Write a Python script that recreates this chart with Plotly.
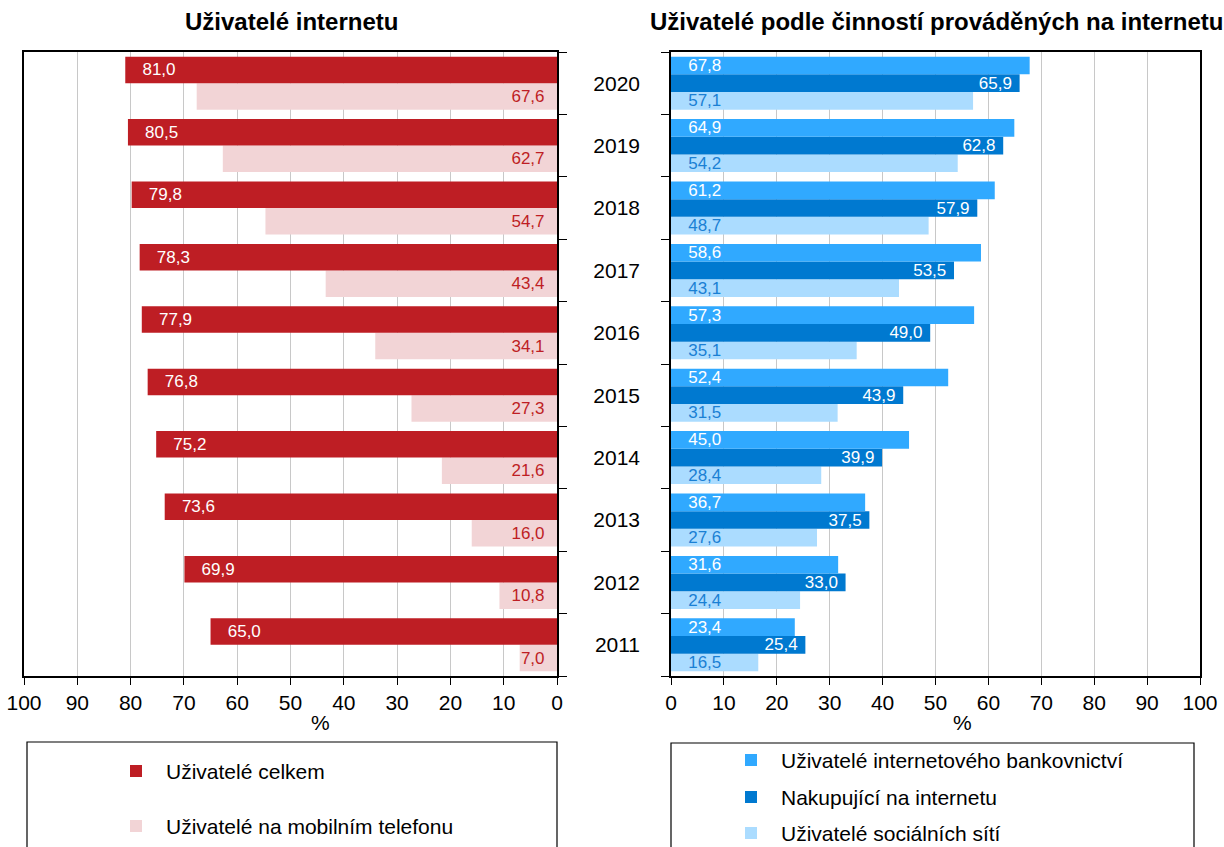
import plotly.graph_objects as go
from plotly.subplots import make_subplots

years = ['2011', '2012', '2013', '2014', '2015', '2016', '2017', '2018', '2019', '2020']

# levý graf - uživatelé internetu (%)
celkem = [65.0, 69.9, 73.6, 75.2, 76.8, 77.9, 78.3, 79.8, 80.5, 81.0]
mobil = [7.0, 10.8, 16.0, 21.6, 27.3, 34.1, 43.4, 54.7, 62.7, 67.6]

# pravý graf - činnosti na internetu (%)
bankovnictvi = [23.4, 31.6, 36.7, 45.0, 52.4, 57.3, 58.6, 61.2, 64.9, 67.8]
nakupujici = [25.4, 33.0, 37.5, 39.9, 43.9, 49.0, 53.5, 57.9, 62.8, 65.9]
socialni_site = [16.5, 24.4, 27.6, 28.4, 31.5, 35.1, 43.1, 48.7, 54.2, 57.1]

RED = '#BE1E24'
PINK = '#F2D4D6'
BLUE1 = '#30A9FF'
BLUE2 = '#0079D0'
BLUE3 = '#ABDCFF'
FONT = 'Liberation Sans, Arial, sans-serif'
W, H = 1224, 847
SP = '\u00a0'  # odsazení popisků od okraje sloupce


def px(x):
    return x / W


def py(y):
    return 1 - y / H


def open_box(x0, x1, ytop):
    # rámeček legendy oříznutý spodním okrajem obrázku
    return dict(type='path', xref='paper', yref='paper',
                path=f'M {px(x0)},0 L {px(x0)},{py(ytop)} L {px(x1)},{py(ytop)} L {px(x1)},0',
                line=dict(color='black', width=1.2))


fig = make_subplots(rows=1, cols=2)

# pořadí tras: první trasa je ve skupině dole
fig.add_trace(go.Bar(
    y=years, x=mobil, orientation='h', name='Uživatelé na mobilním telefonu',
    marker_color=PINK, texttemplate='%{x:.1f}' + SP * 2, textposition='inside',
    insidetextanchor='start', textfont=dict(color=RED, size=17)), row=1, col=1)
fig.add_trace(go.Bar(
    y=years, x=celkem, orientation='h', name='Uživatelé celkem',
    marker_color=RED, texttemplate=SP * 3 + '%{x:.1f}', textposition='inside',
    insidetextanchor='end', textfont=dict(color='white', size=17)), row=1, col=1)

fig.add_trace(go.Bar(
    y=years, x=socialni_site, orientation='h', name='Uživatelé sociálních sítí',
    marker_color=BLUE3, texttemplate=SP * 3 + '%{x:.1f}', textposition='inside',
    insidetextanchor='start', textfont=dict(color='#1A80D4', size=17)), row=1, col=2)
fig.add_trace(go.Bar(
    y=years, x=nakupujici, orientation='h', name='Nakupující na internetu',
    marker_color=BLUE2, texttemplate='%{x:.1f}' + SP, textposition='inside',
    insidetextanchor='end', textfont=dict(color='white', size=17)), row=1, col=2)
fig.add_trace(go.Bar(
    y=years, x=bankovnictvi, orientation='h', name='Uživatelé internetového bankovnictví',
    marker_color=BLUE1, texttemplate=SP * 3 + '%{x:.1f}', textposition='inside',
    insidetextanchor='start', textfont=dict(color='white', size=17)), row=1, col=2)

fig.update_traces(marker_line_width=0, constraintext='none', cliponaxis=False)

ydom = [py(676), py(52)]
xcommon = dict(dtick=10, tick0=0, showgrid=True, gridcolor='#C8C8C8', gridwidth=1,
               showline=True, linecolor='black', linewidth=2, mirror=True,
               ticks='outside', ticklen=7, tickcolor='black', zeroline=False,
               tickfont=dict(size=21, color='black'), automargin=False)
ycommon = dict(type='category', categoryorder='array', categoryarray=years,
               tickson='boundaries', ticks='outside', ticklen=8, tickcolor='black',
               showline=True, linecolor='black', linewidth=1.5, mirror=True,
               showgrid=False, automargin=False, domain=ydom)

fig.update_layout(
    xaxis=dict(xcommon, range=[100, 0], domain=[px(24), px(557)]),
    xaxis2=dict(xcommon, range=[0, 100], domain=[px(671), px(1200)]),
    yaxis=dict(ycommon, side='right', showticklabels=False),
    yaxis2=dict(ycommon, side='left', showticklabels=True,
                tickfont=dict(size=21, color='black'), ticklabelstandoff=25),
)

# legendy v rámečcích pod grafy (vlastní, aby nepřesahovaly okraj stránky)
legend_items = [
    ('Uživatelé celkem', RED, 136, 164, 771),
    ('Uživatelé na mobilním telefonu', PINK, 136, 164, 826),
    ('Uživatelé internetového bankovnictví', BLUE1, 751, 779, 760),
    ('Nakupující na internetu', BLUE2, 751, 779, 797),
    ('Uživatelé sociálních sítí', BLUE3, 751, 779, 833),
]
shapes = [open_box(27, 557, 742), open_box(671, 1194, 743)]
annotations = [
    dict(text='<b>Uživatelé internetu</b>', x=px(291), y=py(21),
         xanchor='center', yanchor='middle', font=dict(size=24)),
    dict(text='<b>Uživatelé podle činností prováděných na internetu</b>',
         x=px(937), y=py(21), xanchor='center', yanchor='middle', font=dict(size=24)),
    dict(text='%', x=px(320), y=py(722), xanchor='center', yanchor='middle',
         font=dict(size=21)),
    dict(text='%', x=px(962), y=py(722), xanchor='center', yanchor='middle',
         font=dict(size=21)),
]
for label, color, mx, tx, ty in legend_items:
    shapes.append(dict(type='rect', xref='paper', yref='paper',
                       x0=px(mx - 6), x1=px(mx + 6), y0=py(ty + 6), y1=py(ty - 6),
                       fillcolor=color, line_width=0))
    annotations.append(dict(text=label, x=px(tx), y=py(ty), xanchor='left',
                            yanchor='middle', font=dict(size=21)))
for a in annotations:
    a.update(xref='paper', yref='paper', showarrow=False)

fig.update_layout(
    width=W, height=H,
    margin=dict(l=0, r=0, t=0, b=0),
    paper_bgcolor='white', plot_bgcolor='white',
    font=dict(family=FONT, color='black'),
    separators=', ',
    showlegend=False,
    barmode='group', bargap=0.15, bargroupgap=0,
    shapes=shapes,
    annotations=annotations,
)

# bez okraje stránky, aby graf začínal v levém horním rohu
fig.write_html('out.html', config={'displayModeBar': False},
               post_script="document.body.style.margin='0';")
